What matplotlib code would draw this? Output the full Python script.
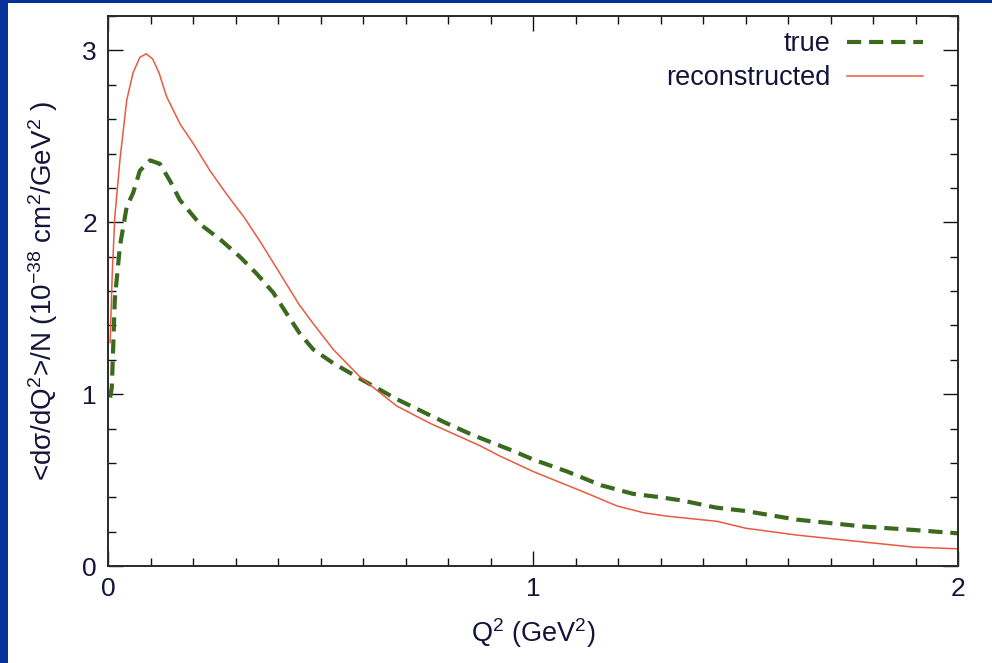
import matplotlib

matplotlib.use("Agg")
import matplotlib.pyplot as plt
from matplotlib.patches import Rectangle
from matplotlib.ticker import MultipleLocator

plt.rcParams["font.family"] = ["Liberation Sans", "DejaVu Sans"]
plt.rcParams["mathtext.fontset"] = "custom"
plt.rcParams["mathtext.rm"] = "Liberation Sans"
plt.rcParams["mathtext.it"] = "Liberation Sans:italic"
plt.rcParams["mathtext.default"] = "regular"

TEXT = "#14143a"
BLUE = "#06309a"
GREEN = "#3b6a1f"
RED = "#e95a40"

Q2_TRUE = [0.005, 0.009, 0.016, 0.028, 0.044, 0.059, 0.075, 0.099, 0.122, 0.146, 0.169,
           0.216, 0.264, 0.31, 0.35, 0.389, 0.42, 0.452, 0.483, 0.53, 0.593, 0.68, 0.797,
           0.86, 0.953, 1.0, 1.08, 1.16, 1.235, 1.30, 1.353, 1.43, 1.5, 1.62, 1.776, 1.894, 2.0]
XS_TRUE = [0.98, 1.04, 1.55, 1.86, 2.09, 2.17, 2.30, 2.36, 2.34, 2.24, 2.13,
           1.99, 1.90, 1.80, 1.70, 1.59, 1.47, 1.35, 1.26, 1.18, 1.09, 0.97, 0.83,
           0.76, 0.67, 0.62, 0.55, 0.47, 0.42, 0.40, 0.38, 0.34, 0.32, 0.27, 0.23, 0.21, 0.19]

Q2_RECO = [0.005, 0.01, 0.016, 0.028, 0.044, 0.059, 0.075, 0.09, 0.105, 0.12, 0.138, 0.17,
           0.2, 0.24, 0.28, 0.32, 0.36, 0.40, 0.45, 0.483, 0.53, 0.593, 0.68, 0.758, 0.875,
           0.922, 1.0, 1.06, 1.12, 1.197, 1.26, 1.315, 1.433, 1.5, 1.62, 1.776, 1.894, 2.0]
XS_RECO = [1.30, 1.70, 2.03, 2.36, 2.71, 2.87, 2.96, 2.98, 2.95, 2.87, 2.73, 2.57,
           2.46, 2.30, 2.16, 2.03, 1.88, 1.72, 1.52, 1.41, 1.26, 1.10, 0.93, 0.83, 0.70,
           0.64, 0.55, 0.49, 0.43, 0.35, 0.31, 0.29, 0.26, 0.22, 0.18, 0.14, 0.11, 0.10]

fig = plt.figure(figsize=(9.92, 6.63), dpi=100, facecolor=BLUE)
fig.add_artist(Rectangle((8 / 992, 0), 1, 1 - 3 / 663, transform=fig.transFigure,
                         facecolor="white", edgecolor="none", zorder=-5))
ax = fig.add_axes([108 / 992, 97 / 663, 850 / 992, 550 / 663])
ax.set_zorder(2)

ax.plot(Q2_TRUE, XS_TRUE, color=GREEN, linewidth=3.0, dashes=(3.4, 1.9), label="true")
ax.plot(Q2_RECO, XS_RECO, color=RED, linewidth=1.1, label="reconstructed")

ax.set_xlim(0, 2)
ax.set_ylim(0, 3.2)
ax.xaxis.set_major_locator(MultipleLocator(1))
ax.xaxis.set_minor_locator(MultipleLocator(0.1))
ax.yaxis.set_major_locator(MultipleLocator(1))
ax.yaxis.set_minor_locator(MultipleLocator(0.2))
ax.tick_params(which="both", direction="in", top=True, right=True, colors="#111111",
               labelcolor=TEXT, labelsize=19, width=1.0)
ax.tick_params(which="major", length=10.5)
ax.tick_params(which="minor", length=6)
ax.tick_params(axis="x", pad=8)
ax.tick_params(axis="y", pad=8)
for sp in ax.spines.values():
    sp.set_linewidth(1.4)
    sp.set_color("#2a2a2a")

ax.set_xlabel(r"Q$^2$ (GeV$^2$)", fontsize=19.5, color=TEXT, labelpad=11)
ax.set_ylabel(r"<d$\sigma$/dQ$^2$>/N (10$^{-38}$ cm$^2$/GeV$^2$ )", fontsize=20, color=TEXT,
              labelpad=16)

leg = ax.legend(loc="upper right", frameon=False, markerfirst=False, fontsize=19.5,
                handlelength=2.8, handletextpad=0.6, labelspacing=0.3,
                borderaxespad=0.0, bbox_to_anchor=(0.971, 0.992))
for t in leg.get_texts():
    t.set_color(TEXT)

fig.savefig("out.png", dpi=100, facecolor=BLUE)
